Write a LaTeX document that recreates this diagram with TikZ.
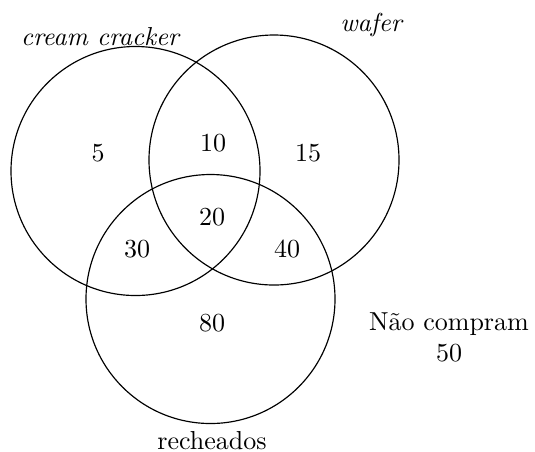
\documentclass[tikz,border=0pt]{standalone}
\begin{document}
\begin{tikzpicture}[x=0.3846pt,y=-0.3846pt,
  set/.style={draw=black,line width=0.45pt},
  num/.style={inner sep=0pt,font=\normalsize},
  lbl/.style={inner sep=0pt}]
\useasboundingbox (0,0) rectangle (535,451);
% the three sets
\draw[set] (135.5,171) circle[radius=124.5];
\draw[set] (274,160) circle[radius=125];
\draw[set] (210.5,299) circle[radius=124.5];
% set names
\node[lbl] (cc) at (100,37) {\itshape cream cracker};
\node[lbl] (wf) at (371,25) {\itshape wafer};
\node[lbl] (rc) at (212,441) {recheados};
\node[lbl,align=center] (nc) at (449,337) {Não compram\\50};
% region counts
\node[num] (n5)  at (98,153)  {5};
\node[num] (n10) at (213,143) {10};
\node[num] (n15) at (308,153) {15};
\node[num] (n20) at (212,217) {20};
\node[num] (n30) at (137,249) {30};
\node[num] (n40) at (287,249) {40};
\node[num] (n80) at (212,323) {80};
\end{tikzpicture}
\end{document}
